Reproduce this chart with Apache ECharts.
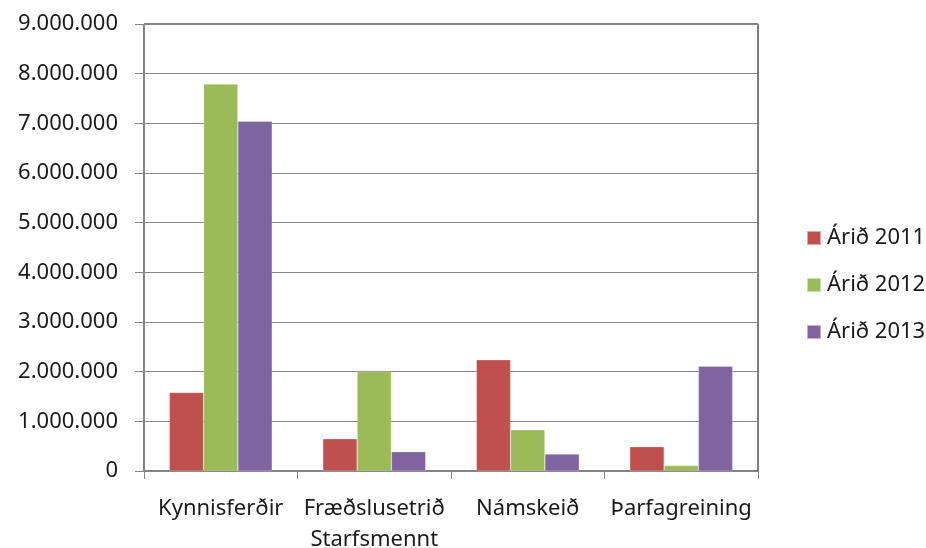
<!DOCTYPE html>
<html><head><meta charset="utf-8">
<script src="https://cdn.jsdelivr.net/npm/echarts@6/dist/echarts.min.js"></script>
<style>html,body{margin:0;padding:0;background:#fff}#c{width:926px;height:548px}</style>
</head><body><div id="c"></div>
<script>
const categories = ['Kynnisferðir', 'Fræðslusetrið\nStarfsmennt', 'Námskeið', 'Þarfagreining'];
const seriesNames = ['Árið 2011', 'Árið 2012', 'Árið 2013'];
const values2011 = [1580000, 650000, 2240000, 490000];
const values2012 = [7790000, 2000000, 830000, 110000];
const values2013 = [7040000, 390000, 340000, 2110000];
const yTicks = { min: 0, max: 9000000, interval: 1000000 };
const colors = ['#C0504D', '#9BBB59', '#8064A2'];

const font = 'Noto Sans';
function fmt(v){ return String(v).replace(/\B(?=(\d{3})+(?!\d))/g, '.'); }
const chart = echarts.init(document.getElementById('c'));
const data = [values2011, values2012, values2013];
chart.setOption({
  animation: false,
  grid: { left: 144, right: 168, top: 24, bottom: 77, show: true, borderColor: '#000', borderWidth: 1, containLabel: false, outerBoundsMode: 'none' },
  legend: {
    orient: 'vertical', left: 801, top: 222, itemWidth: 14, itemHeight: 14, itemGap: 25,
    icon: 'rect',
    textStyle: { fontFamily: font, fontSize: 22, color: '#1a1a1a', padding: [0,0,0,1] },
    data: seriesNames
  },
  xAxis: {
    type: 'category', data: categories,
    axisLine: { lineStyle: { color: '#868686' } },
    axisTick: { show: true, length: 8, lineStyle: { color: '#868686' } },
    axisLabel: { fontFamily: font, fontSize: 22, color: '#1a1a1a', margin: 22, lineHeight: 31, interval: 0 }
  },
  yAxis: {
    type: 'value', min: yTicks.min, max: yTicks.max, interval: yTicks.interval,
    axisLine: { show: true, lineStyle: { color: '#868686' } },
    axisTick: { show: true, length: 9, lineStyle: { color: '#868686' } },
    splitLine: { lineStyle: { color: '#868686' } },
    axisLabel: { fontFamily: font, fontSize: 22, color: '#1a1a1a', margin: 26, formatter: fmt }
  },
  series: seriesNames.map((n, i) => ({
    name: n, type: 'bar', data: data[i], barGap: '0%', barCategoryGap: '33%',
    itemStyle: { color: colors[i], borderColor: 'rgba(255,255,255,0.5)', borderWidth: 0.5 }
  }))
});
</script></body></html>
